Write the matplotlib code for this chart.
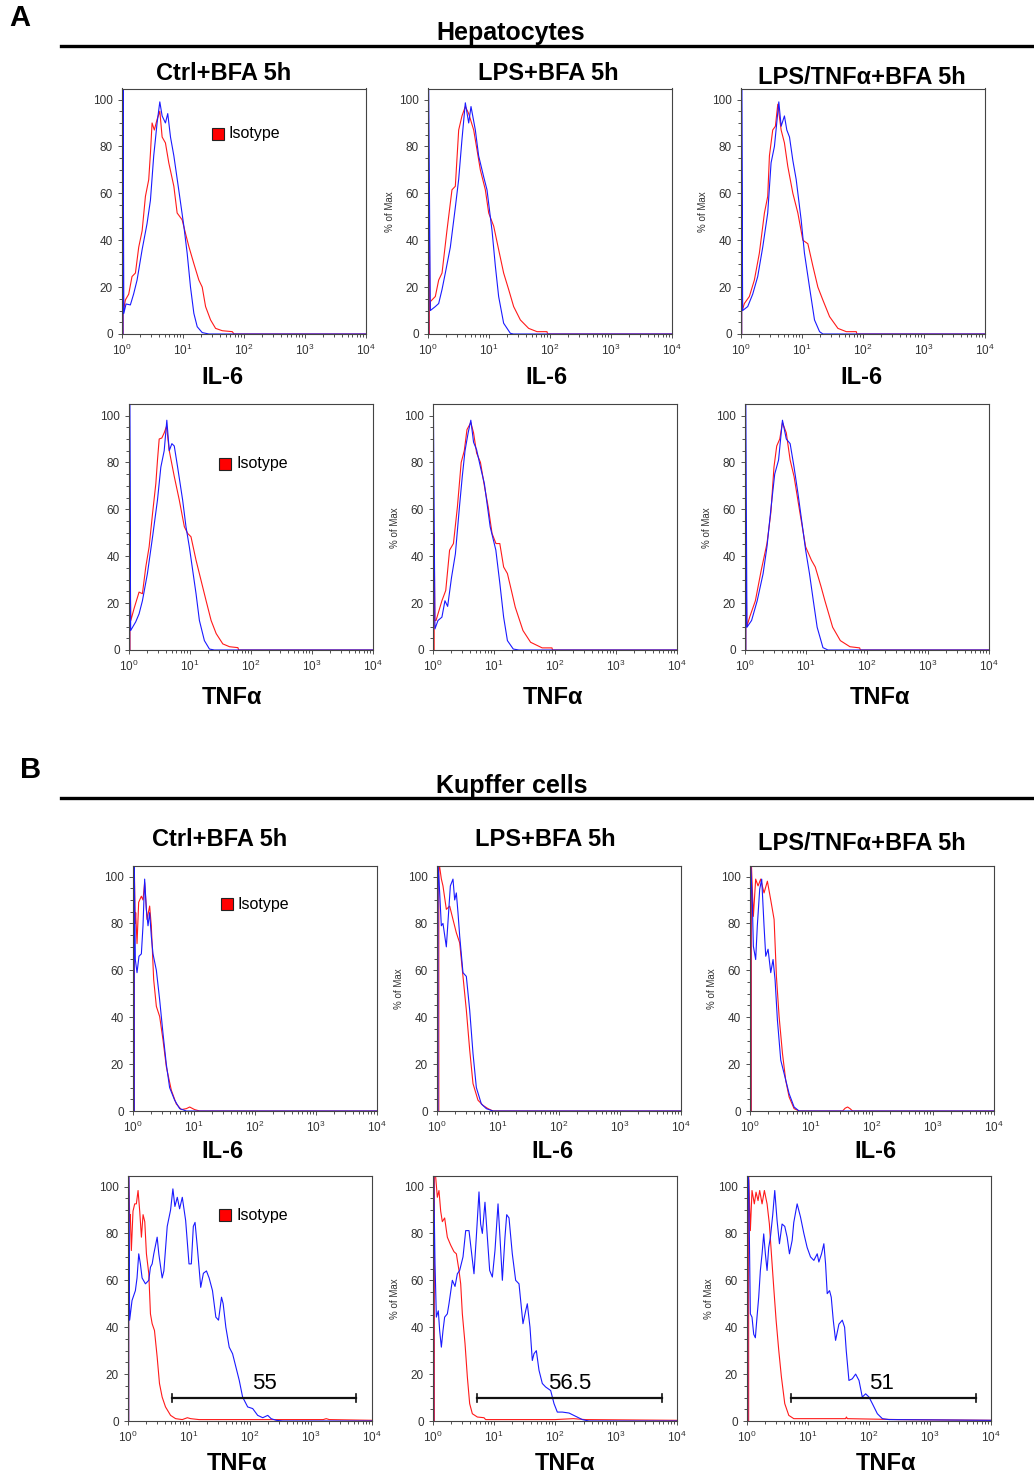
import numpy as np
import matplotlib
matplotlib.use('Agg')
import matplotlib.pyplot as plt
from matplotlib.lines import Line2D
from matplotlib.ticker import MultipleLocator, LogLocator, NullFormatter

plt.rcParams['font.family'] = ['Liberation Sans', 'DejaVu Sans']
plt.rcParams['mathtext.fontset'] = 'custom'
plt.rcParams['mathtext.rm'] = 'Liberation Sans'

# histogram traces: (log10 intensity, % of max)
# A: hepatocytes, IL-6
a1_ctrl_blue = [(0.016, 0), (0.016, 106), (0.03, 8.8), (0.066, 12.8), (0.137, 12.4), (0.19, 17), (0.247, 23),
                (0.33, 36), (0.41, 47), (0.466, 57), (0.52, 76), (0.548, 83), (0.575, 90), (0.62, 99), (0.658, 93),
                (0.712, 90), (0.75, 94), (0.795, 84), (0.85, 76), (0.93, 61.5), (1.014, 46), (1.068, 34.5),
                (1.123, 20), (1.178, 8.8), (1.233, 3.1), (1.315, 0.6), (1.425, 0), (4.0, 0)]
a1_ctrl_red = [(0.018, 0), (0.018, 33), (0.025, 10), (0.055, 14.5), (0.11, 17), (0.164, 24.5), (0.22, 26),
               (0.274, 37), (0.33, 44), (0.384, 58.7), (0.438, 65.8), (0.466, 77), (0.493, 90), (0.53, 87),
               (0.575, 91.5), (0.62, 95), (0.658, 84), (0.712, 81.5), (0.767, 73), (0.85, 63), (0.904, 51.6),
               (0.986, 48.7), (1.04, 43), (1.096, 37.3), (1.178, 30), (1.26, 23), (1.315, 20), (1.37, 11.7),
               (1.452, 6), (1.534, 2.4), (1.644, 1.4), (1.808, 1), (1.836, 0), (4.0, 0)]
a1_lps_blue = [(0.011, 0), (0.011, 106), (0.038, 10), (0.12, 11.7), (0.175, 13), (0.23, 19), (0.284, 26),
               (0.366, 37), (0.448, 54), (0.503, 66), (0.557, 83), (0.612, 98.6), (0.667, 90), (0.705, 97),
               (0.776, 87), (0.83, 76), (0.913, 67), (0.967, 61.5), (1.05, 44), (1.104, 29), (1.158, 16),
               (1.24, 4.6), (1.35, 0.3), (1.4, 0), (4.0, 0)]
a1_lps_red = [(0.022, 0), (0.022, 50), (0.03, 10), (0.038, 13.8), (0.12, 16), (0.175, 23), (0.23, 26),
              (0.31, 44), (0.393, 61.5), (0.448, 63), (0.503, 87), (0.557, 93), (0.612, 97), (0.667, 94),
              (0.749, 87), (0.803, 78.6), (0.858, 70), (0.94, 61.5), (0.995, 51.6), (1.077, 46), (1.158, 36),
              (1.24, 26), (1.322, 19), (1.404, 11.7), (1.514, 6), (1.65, 2.4), (1.787, 1), (1.95, 1),
              (1.962, 0), (4.0, 0)]
a1_tnf_blue = [(0.011, 0), (0.011, 106), (0.027, 10), (0.11, 11.7), (0.192, 17), (0.274, 24.5), (0.356, 37),
               (0.438, 51.6), (0.493, 73), (0.548, 80), (0.62, 99), (0.658, 88.6), (0.712, 93), (0.751, 87),
               (0.795, 84), (0.85, 74), (0.904, 66), (0.986, 48.7), (1.04, 34.5), (1.123, 20), (1.205, 6),
               (1.288, 1), (1.342, 0), (4.0, 0)]
a1_tnf_red = [(0.011, 0), (0.011, 44), (0.02, 10), (0.055, 13), (0.137, 16), (0.219, 23), (0.301, 34.5),
              (0.384, 51.6), (0.438, 58.7), (0.466, 76), (0.52, 87), (0.564, 88.6), (0.603, 98), (0.658, 87),
              (0.712, 81.5), (0.767, 71.5), (0.85, 60), (0.932, 51.6), (1.014, 40), (1.096, 38.5),
              (1.178, 29), (1.26, 20), (1.342, 14.5), (1.452, 7.4), (1.589, 2.4), (1.726, 1), (1.89, 1),
              (1.9, 0), (4.0, 0)]

# A: hepatocytes, TNFa
a2_ctrl_blue = [(0.011, 0), (0.011, 106), (0.027, 8.3), (0.11, 12), (0.165, 15.4), (0.22, 21), (0.302, 32.6),
                (0.385, 48), (0.467, 64), (0.522, 78), (0.577, 85), (0.62, 98), (0.66, 85), (0.703, 88),
                (0.742, 87), (0.797, 78), (0.879, 64), (0.934, 52.6), (0.989, 44), (1.044, 34), (1.099, 24),
                (1.154, 12.6), (1.236, 4), (1.319, 0.4), (1.4, 0), (4.0, 0)]
a2_ctrl_red = [(0.016, 0), (0.016, 33), (0.03, 12.6), (0.082, 17.6), (0.165, 24.7), (0.22, 24), (0.275, 35.4),
               (0.33, 44), (0.385, 58), (0.44, 71), (0.467, 81), (0.495, 90), (0.538, 90.4), (0.577, 92.6),
               (0.615, 95.4), (0.66, 85), (0.742, 74), (0.824, 64), (0.907, 52.6), (0.962, 49.7),
               (1.016, 48.3), (1.099, 38.3), (1.181, 29.7), (1.264, 21), (1.346, 12.6), (1.429, 7),
               (1.538, 2.6), (1.648, 1.4), (1.786, 1), (1.797, 0), (4.0, 0)]
a2_lps_blue = [(0.006, 0), (0.006, 106), (0.032, 9), (0.082, 12.6), (0.146, 14), (0.196, 21), (0.24, 18.6),
               (0.304, 31), (0.367, 41), (0.43, 60), (0.48, 74), (0.525, 85), (0.576, 92.6), (0.62, 98),
               (0.665, 88.6), (0.715, 85.4), (0.778, 78), (0.842, 71), (0.937, 52.6), (1.03, 42.6),
               (1.095, 28.6), (1.158, 14), (1.22, 4), (1.316, 0.4), (1.41, 0), (4.0, 0)]
a2_lps_red = [(0.019, 0), (0.019, 50), (0.03, 12.6), (0.05, 12.6), (0.146, 21), (0.209, 25.4), (0.272, 42.6),
              (0.335, 45.4), (0.4, 61), (0.462, 80), (0.513, 85), (0.557, 94), (0.62, 97), (0.665, 92.6),
              (0.715, 84), (0.778, 80), (0.842, 70), (0.905, 61), (0.968, 49.7), (1.032, 45.4),
              (1.095, 45.4), (1.158, 35.4), (1.22, 32.6), (1.285, 25.4), (1.348, 18.3), (1.475, 8.3),
              (1.6, 3.3), (1.79, 0.9), (1.95, 0.9), (1.96, 0), (4.0, 0)]
a2_tnf_blue = [(0.013, 0), (0.013, 106), (0.032, 9.7), (0.108, 12.6), (0.2, 21), (0.297, 32.6), (0.36, 44),
               (0.424, 60), (0.487, 75), (0.55, 81), (0.614, 98), (0.677, 90), (0.74, 88), (0.804, 78),
               (0.867, 67), (0.93, 55), (0.994, 42.6), (1.057, 32.6), (1.12, 21), (1.183, 9.7), (1.278, 1),
               (1.36, 0), (4.0, 0)]
a2_tnf_red = [(0.013, 0), (0.013, 44), (0.03, 10), (0.076, 14), (0.17, 21), (0.266, 34), (0.36, 45.4),
              (0.424, 58.6), (0.475, 78), (0.52, 87), (0.57, 90), (0.614, 97), (0.677, 92.6), (0.74, 81),
              (0.804, 74), (0.9, 58.6), (0.994, 44), (1.089, 38.3), (1.152, 35.4), (1.247, 27), (1.31, 21),
              (1.437, 9.7), (1.563, 4), (1.72, 1.4), (1.88, 0.9), (1.89, 0), (4.0, 0)]

# B: Kupffer cells, IL-6
b1_ctrl_blue = [(0.02, 0), (0.02, 106), (0.03, 85), (0.038, 64.6), (0.066, 59), (0.098, 66), (0.137, 67),
                (0.164, 79), (0.191, 98.9), (0.219, 86), (0.246, 79), (0.273, 84.6), (0.3, 74.6), (0.328, 67),
                (0.383, 60), (0.437, 47.4), (0.492, 33), (0.546, 20), (0.6, 10), (0.683, 4.6), (0.765, 1),
                (0.874, 0), (4.0, 0)]
b1_ctrl_red = [(0.022, 0), (0.022, 104), (0.035, 80), (0.044, 84.6), (0.066, 71.4), (0.093, 89), (0.137, 91.6),
               (0.164, 90), (0.191, 97.4), (0.23, 81.7), (0.273, 87.4), (0.3, 79), (0.339, 56), (0.383, 44.6),
               (0.437, 40.3), (0.492, 30.3), (0.546, 18.9), (0.628, 8.9), (0.71, 3), (0.792, 0.6),
               (0.874, 1), (0.929, 1.7), (1.01, 0.6), (1.093, 0), (4.0, 0)]
b1_lps_blue = [(0.016, 0), (0.016, 106), (0.044, 93), (0.071, 79), (0.098, 80), (0.153, 70), (0.197, 87.4),
               (0.219, 96), (0.262, 98.9), (0.29, 90), (0.317, 93), (0.344, 84.6), (0.372, 74.6), (0.426, 59),
               (0.481, 57.4), (0.536, 43), (0.59, 24.6), (0.645, 10), (0.727, 3), (0.809, 1), (0.918, 0),
               (4.0, 0)]
b1_lps_red = [(0.03, 0), (0.03, 106), (0.044, 104), (0.071, 99), (0.098, 96), (0.153, 86), (0.208, 87.4),
              (0.262, 81.7), (0.317, 76), (0.372, 71.7), (0.426, 57.4), (0.481, 43), (0.536, 26), (0.59, 11.7),
              (0.672, 4.6), (0.754, 2.4), (0.836, 1), (0.918, 0), (4.0, 0)]
b1_tnf_blue = [(0.011, 0), (0.011, 106), (0.038, 88.9), (0.055, 70.3), (0.093, 64.6), (0.12, 79),
               (0.159, 94.6), (0.192, 98.9), (0.23, 79), (0.258, 66), (0.296, 69), (0.34, 59), (0.378, 64.6),
               (0.411, 56), (0.449, 38.9), (0.504, 21.7), (0.559, 16), (0.641, 7.4), (0.723, 1.7), (0.805, 0),
               (4.0, 0)]
b1_tnf_red = [(0.022, 0), (0.022, 106), (0.055, 83), (0.093, 98.9), (0.132, 96), (0.175, 98.9), (0.23, 93),
              (0.285, 98), (0.34, 90), (0.395, 81.7), (0.433, 57.4), (0.477, 40.3), (0.532, 24.6), (0.586, 13),
              (0.641, 6), (0.723, 1), (0.805, 0), (1.518, 0), (1.56, 1.2), (1.6, 1.7), (1.64, 1.0),
              (1.682, 0), (4.0, 0)]

# B: Kupffer cells, TNFa
b2_ctrl_blue = [(0.011, 0), (0.011, 106), (0.027, 43), (0.066, 51.4), (0.121, 55.6), (0.148, 61), (0.176, 71.3),
                (0.203, 67), (0.231, 61), (0.286, 58.5), (0.341, 60), (0.368, 65.6), (0.396, 67), (0.423, 71.3),
                (0.478, 78.4), (0.505, 71.3), (0.56, 61), (0.588, 64), (0.643, 83), (0.698, 90), (0.736, 99),
                (0.769, 91.5), (0.808, 95.4), (0.846, 90.5), (0.89, 95.4), (0.945, 85.5), (1.0, 67),
                (1.038, 67), (1.071, 83), (1.099, 84.7), (1.137, 74), (1.192, 57), (1.236, 63), (1.286, 64),
                (1.33, 61), (1.385, 55.6), (1.44, 44.3), (1.484, 43), (1.533, 52.8), (1.56, 50), (1.604, 40),
                (1.659, 31.5), (1.714, 28.7), (1.769, 23), (1.824, 17.3), (1.879, 10.2), (1.962, 6),
                (2.044, 5.3), (2.126, 2.4), (2.209, 1.4), (2.291, 2.4), (2.346, 1), (2.429, 0.3), (2.538, 0),
                (4.0, 0)]
b2_ctrl_red = [(0.011, 0), (0.011, 106), (0.03, 85), (0.038, 88), (0.055, 72.7), (0.082, 89.5), (0.11, 92.6),
               (0.137, 92.6), (0.165, 98.3), (0.192, 89.5), (0.22, 78.4), (0.247, 88), (0.275, 85),
               (0.302, 71.3), (0.341, 62.8), (0.368, 45.7), (0.396, 41.5), (0.434, 38.6), (0.478, 27.3),
               (0.516, 16), (0.56, 10.2), (0.615, 6), (0.698, 2.4), (0.78, 1), (0.89, 0.6), (0.973, 1.4),
               (1.027, 1), (1.165, 0.6), (2.0, 0.6), (3.2, 0.6), (3.25, 1.0), (3.3, 0.6), (4.0, 0.3)]
b2_lps_blue = [(0.011, 0), (0.011, 106), (0.033, 67), (0.055, 44.3), (0.087, 47), (0.109, 38.6), (0.137, 31.5),
               (0.164, 38.6), (0.191, 44.3), (0.235, 45.7), (0.262, 50), (0.317, 60), (0.361, 57.4),
               (0.399, 62.8), (0.437, 64.2), (0.492, 70), (0.536, 81.2), (0.59, 81.2), (0.634, 71.3),
               (0.672, 62.8), (0.71, 78.4), (0.754, 97.7), (0.781, 84), (0.809, 80), (0.852, 93.3),
               (0.891, 78.4), (0.929, 64.2), (0.973, 61.4), (1.016, 72.7), (1.066, 92.6), (1.098, 78.4),
               (1.137, 60), (1.18, 78.4), (1.208, 88), (1.246, 86.6), (1.3, 71.3), (1.355, 60), (1.41, 58.5),
               (1.437, 51.4), (1.475, 41.5), (1.519, 47), (1.546, 50), (1.59, 40), (1.628, 25.8),
               (1.656, 28.7), (1.694, 30), (1.738, 21.6), (1.792, 16), (1.847, 14.5), (1.929, 13),
               (1.984, 7.4), (2.038, 3.8), (2.12, 3.8), (2.23, 3.4), (2.339, 2), (2.448, 0.6), (2.557, 0),
               (4.0, 0)]
b2_lps_red = [(0.022, 0), (0.022, 106), (0.044, 104), (0.071, 95.4), (0.098, 98.3), (0.126, 89.5),
              (0.153, 85), (0.191, 86.6), (0.235, 78.4), (0.29, 75), (0.344, 72.2), (0.383, 71.3),
              (0.426, 64.2), (0.454, 58.5), (0.481, 45.7), (0.525, 33), (0.563, 18.8), (0.601, 7.4),
              (0.645, 3.1), (0.727, 1.7), (0.836, 1.4), (0.863, 0.6), (2.0, 0.6), (2.3, 1.0), (2.5, 0.6),
              (4.0, 0.3)]
b2_tnf_blue = [(0.011, 0), (0.011, 106), (0.027, 102.6), (0.055, 45.7), (0.082, 44.3), (0.11, 37),
               (0.137, 35.5), (0.164, 44.3), (0.192, 52.8), (0.219, 64.2), (0.247, 71.3), (0.274, 79.8),
               (0.301, 71.3), (0.329, 64.2), (0.356, 74), (0.384, 78.4), (0.422, 88), (0.455, 98.3),
               (0.493, 85.5), (0.532, 75.6), (0.575, 84), (0.619, 83), (0.658, 78.4), (0.696, 71.3),
               (0.74, 77), (0.767, 84.7), (0.822, 92.6), (0.877, 87), (0.932, 80), (0.986, 74), (1.041, 70),
               (1.096, 68.5), (1.151, 71.3), (1.178, 67.8), (1.222, 71.3), (1.26, 75.6), (1.288, 67),
               (1.315, 54.3), (1.353, 55.6), (1.381, 52.8), (1.414, 43), (1.452, 34.4), (1.507, 41.3),
               (1.562, 43), (1.6, 40), (1.627, 30), (1.671, 17.3), (1.726, 18), (1.781, 20), (1.836, 17.3),
               (1.89, 10.2), (1.945, 11.6), (2.0, 10.2), (2.055, 7.4), (2.137, 3.1), (2.219, 1),
               (2.329, 0.6), (4.0, 0.3)]
b2_tnf_red = [(0.027, 0), (0.027, 106), (0.055, 81.2), (0.082, 98.3), (0.12, 92.6), (0.148, 97.6),
              (0.181, 94), (0.208, 98.3), (0.247, 92.6), (0.285, 98.3), (0.329, 92.6), (0.367, 84),
              (0.4, 71.3), (0.438, 57), (0.477, 43), (0.521, 30), (0.564, 18.8), (0.619, 7.4), (0.685, 2.4),
              (0.767, 1), (1.616, 1), (1.63, 1.7), (1.644, 1), (2.5, 0.6), (4.0, 0.3)]

# gates on the Kupffer TNFa panels
gate_lo = [5.3, 5.3, 5.3]
gate_hi = [5500, 5600, 5600]
gate_pct = ['55', '56.5', '51']
gate_label_x = [170, 176, 163]

conditions = ['Ctrl+BFA 5h', 'LPS+BFA 5h', 'LPS/TNF\u03b1+BFA 5h']

W, H = 1034, 1475
fig = plt.figure(figsize=(W / 100, H / 100), dpi=100)


def px_box(left, bottom, width=244, height=245.5):
    return [left / W, 1 - bottom / H, width / W, height / H]


def draw_panel(ax, blue, red, ylab):
    b = np.array(blue)
    r = np.array(red)
    ax.plot(10 ** r[:, 0], r[:, 1], color='#ff1a1a', lw=0.8)
    ax.plot(10 ** b[:, 0], b[:, 1], color='#1a1aff', lw=0.8)
    ax.set_xscale('log')
    ax.set_xlim(1, 1e4)
    ax.set_ylim(0, 104.7)
    ax.set_yticks([0, 20, 40, 60, 80, 100])
    ax.yaxis.set_minor_locator(MultipleLocator(5))
    ax.xaxis.set_major_locator(LogLocator(base=10, numticks=6))
    ax.xaxis.set_minor_locator(LogLocator(base=10, subs=np.arange(2, 10), numticks=30))
    ax.xaxis.set_minor_formatter(NullFormatter())
    ax.tick_params(which='both', direction='out', labelsize=8.5, labelcolor='#333333', width=0.6, color='#333333')
    ax.tick_params(which='major', length=3)
    ax.tick_params(which='minor', length=2)
    for s in ax.spines.values():
        s.set_linewidth(0.8)
        s.set_color('#444444')
    if ylab:
        ax.set_ylabel('% of Max', fontsize=7, color='#333333', labelpad=3)


def legend_box(ax, x, y):
    ax.plot([x], [y], marker='s', ms=8, mfc='#ff0000', mec='#222222', mew=0.8,
            transform=ax.transAxes, clip_on=False)
    ax.text(x + 0.045, y, 'Isotype', transform=ax.transAxes, va='center', ha='left', fontsize=11.5)


rows = [
    dict(lefts=[122, 428, 741], bottom=334, curves=[(a1_ctrl_blue, a1_ctrl_red), (a1_lps_blue, a1_lps_red),
                                                    (a1_tnf_blue, a1_tnf_red)],
         xlab='IL-6', xlab_x=[222, 546, 861], xlab_y=378, leg=(0.393, 0.815)),
    dict(lefts=[129, 433, 745], bottom=650, curves=[(a2_ctrl_blue, a2_ctrl_red), (a2_lps_blue, a2_lps_red),
                                                    (a2_tnf_blue, a2_tnf_red)],
         xlab='TNF\u03b1', xlab_x=[232, 553, 880], xlab_y=697, leg=(0.395, 0.758)),
    dict(lefts=[133, 437, 750], bottom=1111, curves=[(b1_ctrl_blue, b1_ctrl_red), (b1_lps_blue, b1_lps_red),
                                                     (b1_tnf_blue, b1_tnf_red)],
         xlab='IL-6', xlab_x=[222, 552, 875], xlab_y=1152, leg=(0.385, 0.843)),
    dict(lefts=[128, 433, 747], bottom=1421, curves=[(b2_ctrl_blue, b2_ctrl_red), (b2_lps_blue, b2_lps_red),
                                                     (b2_tnf_blue, b2_tnf_red)],
         xlab='TNF\u03b1', xlab_x=[237, 565, 886], xlab_y=1463, leg=(0.398, 0.839)),
]

for ri, row in enumerate(rows):
    for ci in range(3):
        ax = fig.add_axes(px_box(row['lefts'][ci], row['bottom']))
        blue, red = row['curves'][ci]
        draw_panel(ax, blue, red, ci > 0)
        if ci == 0:
            legend_box(ax, *row['leg'])
        if ri == 3:
            lo, hi = gate_lo[ci], gate_hi[ci]
            ax.plot([lo, hi], [10, 10], color='#111111', lw=1.6)
            ax.plot([lo, lo], [8.3, 11.7], color='#111111', lw=1.2)
            ax.plot([hi, hi], [8.3, 11.7], color='#111111', lw=1.2)
            ax.text(gate_label_x[ci], 16, gate_pct[ci], ha='center', va='center', fontsize=16)
        fig.text(row['xlab_x'][ci] / W, 1 - row['xlab_y'] / H, row['xlab'],
                 ha='center', va='center', fontsize=17, weight='bold')

# column titles
title_x = [[224, 548, 862], [220, 545, 862]]
title_y = [[73, 73, 77], [840, 840, 843]]
for k in range(2):
    for ci in range(3):
        fig.text(title_x[k][ci] / W, 1 - title_y[k][ci] / H, conditions[ci],
                 ha='center', va='center', fontsize=17, weight='bold')

# section headers
fig.text(20 / W, 1 - 18 / H, 'A', ha='center', va='center', fontsize=21, weight='bold')
fig.text(31 / W, 1 - 770 / H, 'B', ha='center', va='center', fontsize=21, weight='bold')
fig.text(511 / W, 1 - 33 / H, 'Hepatocytes', ha='center', va='center', fontsize=18, weight='bold')
fig.text(512 / W, 1 - 786 / H, 'Kupffer cells', ha='center', va='center', fontsize=18, weight='bold')
fig.add_artist(Line2D([61 / W, 1.0], [1 - 46 / H, 1 - 46 / H], lw=2.4, color='black'))
fig.add_artist(Line2D([61 / W, 1.0], [1 - 798 / H, 1 - 798 / H], lw=2.4, color='black'))

fig.savefig('out.png', dpi=100)
